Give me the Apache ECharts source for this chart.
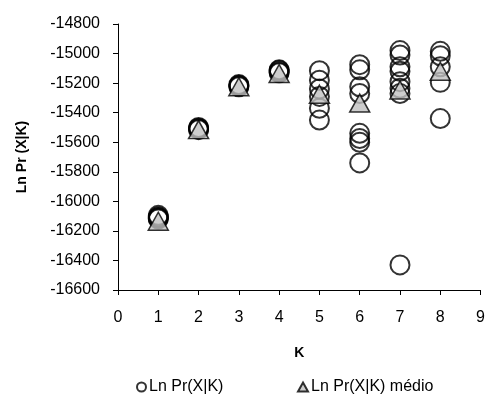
<!DOCTYPE html>
<html>
<head>
<meta charset="utf-8">
<script src="https://cdn.jsdelivr.net/npm/echarts@6/dist/echarts.min.js"></script>
<style>
  html, body { margin: 0; padding: 0; background: #fff; }
  #chart { width: 488px; height: 401px; }
</style>
</head>
<body>
<div id="chart"></div>
<script>
// Ln Pr(X|K) for each run, grouped by K
const kValues = [1, 2, 3, 4, 5, 6, 7, 8]
const runsK1 = [-16095, -16105, -16110, -16115, -16120]
const runsK2 = [-15500, -15505, -15510, -15515]
const runsK3 = [-15210, -15215, -15220, -15225]
const runsK4 = [-15110, -15115, -15125, -15130]
const runsK5 = [-15116, -15180, -15240, -15290, -15370, -15450]
const runsK6 = [-15075, -15110, -15225, -15270, -15540, -15575, -15600, -15740]
const runsK7 = [-14980, -15010, -15090, -15120, -15190, -15235, -15270, -16430]
const runsK8 = [-14985, -15015, -15090, -15195, -15440]
// mean per K
const meanValues = [-16135, -15515, -15225, -15135, -15275, -15335, -15247, -15120]

const yTicks = { min: -16600, max: -14800, interval: 200 }

const runs = [runsK1, runsK2, runsK3, runsK4, runsK5, runsK6, runsK7, runsK8]
const runPoints = []
runs.forEach((list, i) => {
  list.forEach(v => runPoints.push([kValues[i], v]))
})
const meanPoints = kValues.map((k, i) => [k, meanValues[i]])

const font = 'Liberation Sans, Arial, sans-serif'
const chart = echarts.init(document.getElementById('chart'), null, { renderer: 'canvas' })

chart.setOption({
  animation: false,
  backgroundColor: '#fff',
  grid: {
    left: 118,
    right: 6,
    top: 24,
    bottom: 111,
    containLabel: false
  },
  legend: [{
    data: ['Ln Pr(X|K)'],
    left: 131,
    top: 374,
    itemWidth: 9,
    itemHeight: 9,
    itemGap: 0,
    textStyle: { fontFamily: font, fontSize: 16, color: '#000', padding: [0, 0, 0, -2] }
  }, {
    data: ['Ln Pr(X|K) médio'],
    left: 292,
    top: 374,
    itemWidth: 10,
    itemHeight: 9,
    itemGap: 0,
    textStyle: { fontFamily: font, fontSize: 16, color: '#000', padding: [0, 0, 0, -2] }
  }],
  xAxis: {
    type: 'value',
    min: 0,
    max: 9,
    interval: 1,
    name: 'K',
    nameLocation: 'middle',
    nameGap: 56,
    nameTextStyle: { fontFamily: font, fontSize: 14, fontWeight: 'bold', color: '#000' },
    axisLine: { lineStyle: { color: '#000', width: 1 } },
    axisTick: { show: true, inside: false, length: 5, lineStyle: { color: '#000' } },
    axisLabel: { fontFamily: font, fontSize: 16, color: '#000', margin: 20 },
    splitLine: { show: false }
  },
  yAxis: {
    type: 'value',
    min: yTicks.min,
    max: yTicks.max,
    interval: yTicks.interval,
    name: 'Ln Pr (X|K)',
    nameLocation: 'middle',
    nameGap: 89,
    nameTextStyle: { fontFamily: font, fontSize: 14, fontWeight: 'bold', color: '#000' },
    axisLine: { show: true, lineStyle: { color: '#000', width: 1 } },
    axisTick: { show: true, inside: false, length: 5, lineStyle: { color: '#000' } },
    axisLabel: {
      fontFamily: font,
      fontSize: 16,
      color: '#000',
      margin: 18,
      formatter: v => String(v)
    },
    splitLine: { show: false }
  },
  series: [{
    name: 'Ln Pr(X|K)',
    type: 'scatter',
    symbol: 'circle',
    symbolSize: 19,
    z: 2,
    data: runPoints,
    itemStyle: {
      color: 'rgba(255,255,255,0)',
      borderColor: '#000',
      borderWidth: 2
    }
  }, {
    name: 'Ln Pr(X|K) médio',
    type: 'scatter',
    symbol: 'triangle',
    symbolSize: [20, 18],
    z: 3,
    data: meanPoints,
    itemStyle: {
      color: '#c0c0c0',
      borderColor: '#000',
      borderWidth: 1.5
    }
  }]
})
</script>
</body>
</html>
